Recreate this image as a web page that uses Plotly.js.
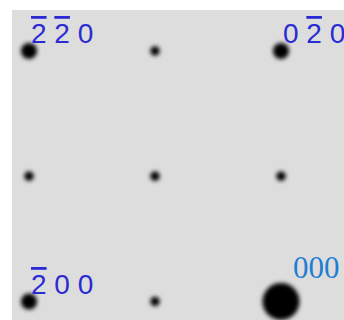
<!DOCTYPE html>
<html>
<head>
<meta charset="utf-8">
<script src="https://cdn.plot.ly/plotly-3.0.1.min.js"></script>
<style>
  html, body { margin: 0; padding: 0; background: #ffffff; }
  #chart { width: 344px; height: 320px; }
</style>
</head>
<body>
<div id="chart"></div>
<script>
// Reciprocal-lattice spots (h k 0) of the zone pattern
const spotH = [-2, -1, 0, -2, -1, 0, -2, -1, 0];
const spotK = [-2, -2, -2, -1, -1, -1, 0, 0, 0];
// Relative spot intensity (transmitted beam = 1)
const spotIntensity = [0.19, 0.065, 0.19, 0.065, 0.065, 0.065, 0.19, 0.065, 1.0];

// Indexed reflections; a bar over a digit marks a negative index
const bar = d => '<span style="text-decoration:overline">' + d + '</span>';
const labelH = [-2, 0, -2];
const labelK = [-2, -2, 0];
const labelText = [bar('2') + ' ' + bar('2') + ' 0', '0 ' + bar('2') + ' 0', bar('2') + ' 0 0'];
const originLabel = '000';

const maxDiameter = 37;
const spotSizes = spotIntensity.map(v => maxDiameter * Math.sqrt(v));

const trace = {
  type: 'scatter',
  mode: 'markers',
  x: spotH,
  y: spotK,
  marker: { color: '#000000', opacity: 1, size: spotSizes, line: { width: 0 } },
  hoverinfo: 'skip'
};

const annotations = labelText.map((t, i) => ({
  x: labelH[i], y: labelK[i], xref: 'x', yref: 'y',
  text: t, showarrow: false,
  xanchor: 'left', yanchor: 'middle',
  xshift: 1, yshift: 17, borderpad: 0,
  font: { family: 'Liberation Sans, Arial, sans-serif', size: 28, color: '#2b2bd4' }
}));
annotations.push({
  x: 0, y: 0, xref: 'x', yref: 'y',
  text: originLabel, showarrow: false,
  xanchor: 'left', yanchor: 'middle',
  xshift: 11, yshift: 34, borderpad: 0,
  font: { family: 'Liberation Serif, Times New Roman, serif', size: 31, color: '#1f7dd2' }
});

const layout = {
  width: 344, height: 320,
  margin: { l: 12, r: 0, t: 10, b: 0, pad: 0 },
  paper_bgcolor: '#ffffff',
  plot_bgcolor: '#dddddd',
  showlegend: false,
  xaxis: { range: [-2.135, 0.5], visible: false, fixedrange: true },
  yaxis: { range: [0.148, -2.327], visible: false, fixedrange: true },
  annotations: annotations
};

Plotly.newPlot('chart', [trace], layout, { staticPlot: true, displayModeBar: false }).then(gd => {
  // Soften the spots like a recorded diffraction pattern
  const svg = gd.querySelector('svg.main-svg');
  const ns = 'http://www.w3.org/2000/svg';
  let defs = svg.querySelector('defs');
  if (!defs) { defs = document.createElementNS(ns, 'defs'); svg.insertBefore(defs, svg.firstChild); }
  const filter = document.createElementNS(ns, 'filter');
  filter.setAttribute('id', 'spotBlur');
  filter.setAttribute('x', '-50%'); filter.setAttribute('y', '-50%');
  filter.setAttribute('width', '200%'); filter.setAttribute('height', '200%');
  const blur = document.createElementNS(ns, 'feGaussianBlur');
  blur.setAttribute('stdDeviation', '2.2');
  filter.appendChild(blur);
  defs.appendChild(filter);
  gd.querySelectorAll('.scatterlayer .trace .points path').forEach(p => {
    p.setAttribute('filter', 'url(#spotBlur)');
  });
});
</script>
</body>
</html>
